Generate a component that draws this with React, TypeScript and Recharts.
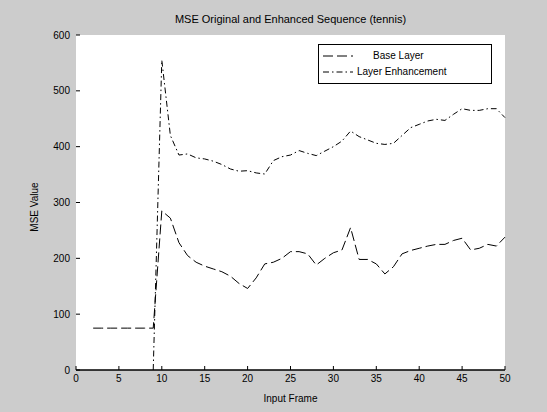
import { CartesianGrid, Line, LineChart, XAxis, YAxis } from "recharts";

// MATLAB-style figure: grey canvas, white axes box, inward ticks.
const TITLE = "MSE Original and Enhanced Sequence (tennis)";
const X_LABEL = "Input Frame";
const Y_LABEL = "MSE Value";

const BASE_NAME = "Base Layer";
const ENH_NAME = "Layer Enhancement";

const frames = [
  1, 2, 3, 4, 5, 6, 7, 8, 9, 10, 11, 12, 13, 14, 15, 16, 17, 18, 19, 20, 21, 22,
  23, 24, 25, 26, 27, 28, 29, 30, 31, 32, 33, 34, 35, 36, 37, 38, 39, 40, 41,
  42, 43, 44, 45, 46, 47, 48, 49, 50,
];

const baseLayer = [
  null, 75, 75, 75, 75, 75, 75, 75, 75, 285, 272, 228, 205, 193, 186, 181, 176,
  168, 155, 146, 165, 190, 193, 200, 212, 212, 208, 188, 200, 210, 215, 255,
  198, 198, 190, 172, 185, 208, 214, 218, 222, 225, 225, 232, 236, 215, 218,
  225, 222, 238,
];

const enhancement = [
  null, null, null, null, null, null, null, null, 0, 555, 420, 385, 387, 380,
  378, 374, 368, 360, 356, 357, 353, 351, 375, 382, 385, 393, 388, 384, 392,
  400, 410, 428, 418, 412, 406, 404, 406, 420, 434, 440, 446, 449, 447, 458,
  468, 465, 465, 468, 468, 452,
];

const xTicks = [0, 5, 10, 15, 20, 25, 30, 35, 40, 45, 50];
const yTicks = [0, 100, 200, 300, 400, 500, 600];

const data = frames.map((frame, i) => ({
  frame,
  base: baseLayer[i],
  enh: enhancement[i],
}));

const FONT = "'Liberation Sans', Arial, sans-serif";
const BASE_DASH = "10 4";
const ENH_DASH = "6 3 1.5 3";

export default function App() {
  const tickStyle = { fill: "#000", fontSize: 10, fontFamily: FONT };
  return (
    <div
      style={{
        position: "absolute",
        left: 0,
        top: 0,
        width: 547,
        height: 412,
        background: "#cccccc",
        fontFamily: FONT,
      }}
    >
      <LineChart
        width={547}
        height={412}
        data={data}
        margin={{ top: 34, right: 41, bottom: 12, left: 36 }}
      >
        <CartesianGrid fill="#ffffff" stroke="none" horizontal={false} vertical={false} />
        <XAxis
          dataKey="frame"
          type="number"
          domain={[0, 50]}
          ticks={xTicks}
          height={30}
          tick={tickStyle}
          tickSize={-4}
          tickMargin={9}
          tickLine={{ stroke: "#000" }}
          axisLine={{ stroke: "#000", strokeWidth: 1.5 }}
          interval={0}
        />
        <XAxis
          xAxisId="top"
          orientation="top"
          dataKey="frame"
          type="number"
          domain={[0, 50]}
          ticks={xTicks}
          height={1}
          tick={false}
          tickSize={-4}
          tickLine={{ stroke: "#000" }}
          axisLine={false}
          interval={0}
        />
        <YAxis
          type="number"
          domain={[0, 600]}
          ticks={yTicks}
          width={40}
          tick={tickStyle}
          tickSize={-4}
          tickMargin={10}
          tickLine={{ stroke: "#000" }}
          axisLine={false}
          interval={0}
        />
        <YAxis
          yAxisId="right"
          orientation="right"
          type="number"
          domain={[0, 600]}
          ticks={yTicks}
          width={1}
          tick={false}
          tickSize={-4}
          tickLine={{ stroke: "#000" }}
          axisLine={false}
          interval={0}
        />
        <Line
          dataKey="base"
          name={BASE_NAME}
          stroke="#000"
          strokeWidth={1}
          strokeDasharray={BASE_DASH}
          dot={false}
          connectNulls={false}
          isAnimationActive={false}
        />
        <Line
          dataKey="enh"
          name={ENH_NAME}
          stroke="#000"
          strokeWidth={1}
          strokeDasharray={ENH_DASH}
          dot={false}
          connectNulls={false}
          isAnimationActive={false}
        />
      </LineChart>

      {/* title and axis labels */}
      <div
        style={{
          position: "absolute",
          left: 76,
          width: 429,
          top: 12,
          textAlign: "center",
          fontSize: 11,
          lineHeight: "14px",
        }}
      >
        {TITLE}
      </div>
      <div
        style={{
          position: "absolute",
          left: 76,
          width: 429,
          top: 393,
          textAlign: "center",
          fontSize: 10,
          lineHeight: "12px",
        }}
      >
        {X_LABEL}
      </div>
      <div
        style={{
          position: "absolute",
          left: 35 - 40,
          top: 207 - 6,
          width: 80,
          textAlign: "center",
          fontSize: 10,
          lineHeight: "12px",
          transform: "rotate(-90deg)",
        }}
      >
        {Y_LABEL}
      </div>

      {/* legend */}
      <div
        style={{
          position: "absolute",
          left: 318,
          top: 44,
          width: 174,
          height: 40,
          background: "#fff",
          border: "1px solid #000",
          boxSizing: "border-box",
          fontSize: 10,
        }}
      >
        <svg width={40} height={38} style={{ position: "absolute", left: 2, top: 0 }}>
          <line x1={2} x2={32} y1={11} y2={11} stroke="#000" strokeDasharray={BASE_DASH} />
          <line x1={2} x2={32} y1={27} y2={27} stroke="#000" strokeDasharray={ENH_DASH} />
        </svg>
        <div style={{ position: "absolute", left: 54, top: 5, lineHeight: "12px" }}>
          {BASE_NAME}
        </div>
        <div style={{ position: "absolute", left: 38, top: 21, lineHeight: "12px" }}>
          {ENH_NAME}
        </div>
      </div>
    </div>
  );
}
